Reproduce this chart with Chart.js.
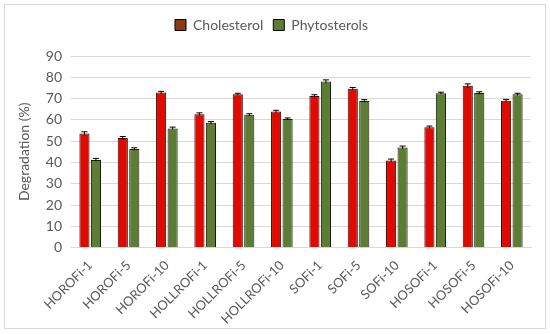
<!DOCTYPE html>
<html>
<head>
<meta charset="utf-8">
<script src="https://cdn.jsdelivr.net/npm/chart.js@4"></script>
<style>
  html, body { margin: 0; padding: 0; background: #fff; }
  #wrap { position: relative; width: 550px; height: 334px; }
  #frame { position: absolute; left: 4px; top: 4px; width: 540px; height: 323px; border: 1px solid #d9d9d9; pointer-events: none; }
</style>
</head>
<body>
<div id="wrap">
  <canvas id="chart" width="550" height="334"></canvas>
  <div id="frame"></div>
</div>
<script>
// muestras y porcentajes de degradación
const muestras = ['HOROFi-1', 'HOROFi-5', 'HOROFi-10', 'HOLLROFi-1', 'HOLLROFi-5', 'HOLLROFi-10',
  'SOFi-1', 'SOFi-5', 'SOFi-10', 'HOSOFi-1', 'HOSOFi-5', 'HOSOFi-10'];
const colesterol = [53.6, 51.5, 72.8, 62.7, 72.0, 63.9, 71.2, 74.6, 40.9, 56.5, 76.0, 69.0];
const colesterolErr = [0.8, 0.7, 0.6, 0.6, 0.5, 0.6, 0.6, 0.6, 0.7, 0.6, 0.9, 0.6];
const fitosteroles = [41.2, 46.3, 56.0, 58.6, 62.4, 60.4, 78.0, 68.9, 47.0, 72.5, 72.6, 72.0];
const fitosterolesErr = [0.7, 0.6, 0.6, 0.6, 0.5, 0.5, 0.8, 0.6, 0.7, 0.5, 0.6, 0.5];
const ticksY = [0, 10, 20, 30, 40, 50, 60, 70, 80, 90];

const fuente = 'Lato, "Open Sans", sans-serif';

// barras de error pequeñas sobre cada barra
const errorBars = {
  id: 'errorBars',
  afterDatasetsDraw(chart) {
    const ctx = chart.ctx;
    const y = chart.scales.y;
    [colesterolErr, fitosterolesErr].forEach((errs, di) => {
      const meta = chart.getDatasetMeta(di);
      meta.data.forEach((bar, i) => {
        const v = chart.data.datasets[di].data[i];
        const top = y.getPixelForValue(v + errs[i]);
        const bot = y.getPixelForValue(v - errs[i]);
        ctx.save();
        ctx.strokeStyle = '#000';
        ctx.lineWidth = 1;
        ctx.beginPath();
        ctx.moveTo(bar.x, top); ctx.lineTo(bar.x, bot);
        ctx.moveTo(bar.x - 3, top); ctx.lineTo(bar.x + 3, top);
        ctx.stroke();
        ctx.restore();
      });
    });
  }
};

// espacio extra debajo de la leyenda
const legendSpacer = {
  id: 'legendSpacer',
  beforeInit(chart) {
    const fit = chart.legend.fit;
    chart.legend.fit = function () {
      fit.bind(this)();
      this.height += 14;
    };
  }
};

const config = {
  type: 'bar',
  data: {
    labels: muestras,
    datasets: [
      {
        label: 'Cholesterol',
        data: colesterol,
        backgroundColor: '#e00a00',
        borderColor: '#2a0800',
        borderWidth: 1,
        barPercentage: 0.88,
        categoryPercentage: 0.6,
      },
      {
        label: 'Phytosterols',
        data: fitosteroles,
        backgroundColor: '#5e7d34',
        borderColor: '#142008',
        borderWidth: 1,
        barPercentage: 0.88,
        categoryPercentage: 0.6,
      },
    ],
  },
  options: {
    responsive: false,
    animation: false,
    layout: { padding: { left: 12, right: 19, top: 8, bottom: 5 } },
    scales: {
      x: {
        grid: { display: false },
        border: { color: '#d9d9d9' },
        ticks: {
          color: '#595959',
          font: { family: fuente, size: 13 },
          minRotation: 45,
          maxRotation: 45,
          padding: 2,
        },
      },
      y: {
        min: 0,
        max: 90,
        afterBuildTicks: (axis) => { axis.ticks = ticksY.map(v => ({ value: v })); },
        grid: { color: '#d9d9d9', drawTicks: false },
        border: { display: false },
        ticks: {
          color: '#595959',
          font: { family: fuente, size: 14 },
          padding: 9,
        },
        title: {
          display: true,
          text: 'Degradation (%)',
          color: '#595959',
          font: { family: fuente, size: 14 },
          padding: 4,
        },
      },
    },
    plugins: {
      legend: {
        display: true,
        position: 'top',
        labels: {
          color: '#595959',
          font: { family: fuente, size: 14 },
          boxWidth: 11,
          boxHeight: 11,
          padding: 10,
          generateLabels: (chart) => {
            const fills = ['#8a3c0e', '#5e7d34'];
            return chart.data.datasets.map((ds, i) => ({
              text: ds.label,
              fillStyle: fills[i],
              strokeStyle: '#000',
              lineWidth: 1,
              fontColor: '#595959',
              datasetIndex: i,
              hidden: !chart.isDatasetVisible(i),
            }));
          },
        },
      },
      tooltip: { enabled: false },
    },
  },
  plugins: [errorBars, legendSpacer],
};

const ctx = document.getElementById('chart').getContext('2d');
new Chart(ctx, config);
</script>
</body>
</html>
